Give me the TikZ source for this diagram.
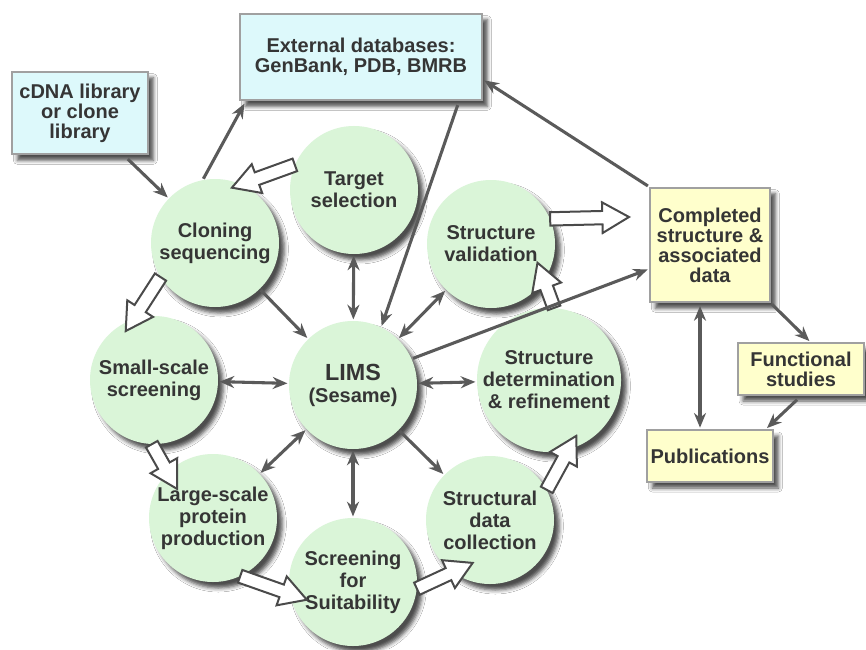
\documentclass[tikz,border=0pt]{standalone}
\usepackage{fontspec}
\setmainfont{Liberation Sans}
\usetikzlibrary{shadows.blur,calc,arrows.meta}
\definecolor{circfill}{HTML}{DAF5D8}
\definecolor{boxcyan}{HTML}{DDF9FB}
\definecolor{boxyellow}{HTML}{FFFFCC}
\definecolor{boxborder}{HTML}{A0A0A0}
\definecolor{txt}{HTML}{353535}
\definecolor{arr}{HTML}{5A5A5A}
\definecolor{barr}{HTML}{4A4A4A}
\tikzset{
  myshadow/.style={blur shadow={shadow xshift=4pt, shadow yshift=-4.5pt, shadow blur radius=3pt, shadow opacity=70}},
  proc/.style={circle, fill=circfill, minimum size=96pt, inner sep=0pt, align=center,
    font=\fontsize{15}{16.5}\selectfont\bfseries, text=txt, myshadow},
  srcbox/.style={rectangle, draw=boxborder, line width=1.5pt, align=center, inner sep=2pt,
    font=\fontsize{15}{15}\selectfont\bfseries, text=txt, myshadow},
  cyanbox/.style={srcbox, fill=boxcyan},
  yelbox/.style={srcbox, fill=boxyellow},
  link/.style={draw=arr, line width=2.3pt, -{Stealth[length=11pt,width=9pt]}, shorten >=1pt, shorten <=1pt},
  dlink/.style={link, {Stealth[length=11pt,width=9pt]}-{Stealth[length=11pt,width=9pt]}},
  blockarrow/.style={draw=barr, line width=1.5pt, fill=white, line join=miter},
}
\newcommand{\blockarr}[2]{%
  \path (#1) coordinate (ba-s) (#2) coordinate (ba-e);
  \path ($(ba-e)!20pt!(ba-s)$) coordinate (ba-h);
  \draw[blockarrow] ($(ba-s)!5pt!90:(ba-e)$) -- ($(ba-h)!5pt!90:(ba-e)$) -- ($(ba-h)!11.5pt!90:(ba-e)$)
    -- (ba-e) -- ($(ba-h)!11.5pt!-90:(ba-e)$) -- ($(ba-h)!5pt!-90:(ba-e)$) -- ($(ba-s)!5pt!-90:(ba-e)$) -- cycle;
}
\begin{document}
\begin{tikzpicture}[x=0.75pt,y=-0.75pt]
\useasboundingbox (0,0) rectangle (866,649);
\fill[white] (0,0) rectangle (866,649);

% boxes
\node[cyanbox, minimum width=181.5pt, minimum height=65pt] (ext) at (361,57) {External databases:\\GenBank, PDB, BMRB};
\node[cyanbox, minimum width=102pt, minimum height=62pt] (cdna) at (80,113) {cDNA library\\or clone\\library};
\node[yelbox, minimum width=90pt, minimum height=86pt] (comp) at (710,245) {Completed\\structure \&\\associated\\data};
\node[yelbox, minimum width=95pt, minimum height=39pt] (func) at (801,369) {Functional\\studies};
\node[yelbox, minimum width=94.5pt, minimum height=39pt] (pub) at (710,456) {Publications};

% circles
\node[proc] (clon) at (215,243) {Cloning\\sequencing};
\node[proc] (tgt) at (354,190) {Target\\selection};
\node[proc] (val) at (491,244) {Structure\\validation};
\node[proc] (small) at (154,380) {Small-scale\\screening};
\node[proc] (lims) at (353,385) {\fontsize{17.5}{19}\selectfont LIMS\\(Sesame)};
\node[proc] (large) at (213,518) {Large-scale\\protein\\production};
\node[proc] (scr) at (353,582) {Screening\\for\\Suitability};
\node[proc] (coll) at (490,520) {Structural\\data\\collection};
\node[proc] (det) at (549,380) {Structure\\determination\\\& refinement};

% block arrows (process flow)
\coordinate (e1) at ($(clon.center)!0.9!(clon.73)$);
\coordinate (e2) at ($(small.center)!0.88!(small.120)$);
\coordinate (e3) at ($(large.center)!0.72!(large.141)$);
\coordinate (e4) at ($(scr.center)!0.77!(scr.201)$);
\coordinate (e5) at ($(coll.center)!0.72!(coll.248)$);
\coordinate (e6) at ($(det.center)!0.86!(det.-64)$);
\coordinate (e7) at ($(val.center)!0.78!(val.-22)$);
\coordinate (e8) at ([xshift=-15pt,yshift=21pt]comp.west);
\blockarr{tgt.157}{e1}
\blockarr{clon.212}{e2}
\blockarr{small.-92}{e3}
\blockarr{large.-65}{e4}
\blockarr{scr.-6}{e5}
\blockarr{coll.28}{e6}
\blockarr{det.86}{e7}
\blockarr{val.23}{e8}

% thin connectors
\draw[link, shorten <=4pt] (cdna) -- (clon);
\draw[link, shorten >=2pt] (clon.101) -- ([xshift=5pt]ext.south west);
\draw[link, shorten <=3pt] ([xshift=-18pt]ext.south east) -- (lims.64);
\draw[link] (comp.north west) -- ([yshift=-17pt]ext.east);
\draw[dlink] (tgt) -- (lims);
\draw[link] (clon) -- (lims);
\draw[dlink] (small) -- (lims);
\draw[dlink] (val) -- (lims);
\draw[link] (lims.24) -- ([yshift=-18pt]comp.west);
\draw[dlink] (lims) -- (det);
\draw[dlink] (lims) -- (large);
\draw[dlink] (lims) -- (scr);
\draw[link] (lims) -- (coll);
\draw[dlink, shorten <=2pt] ([xshift=-7.5pt]comp.south) -- ([xshift=-7.5pt]pub.north);
\draw[link] (comp.south east) -- ([xshift=7pt]func.north);
\draw[link, shorten <=4pt] (func.south) -- ([xshift=-6pt]pub.north east);
\end{tikzpicture}
\end{document}
